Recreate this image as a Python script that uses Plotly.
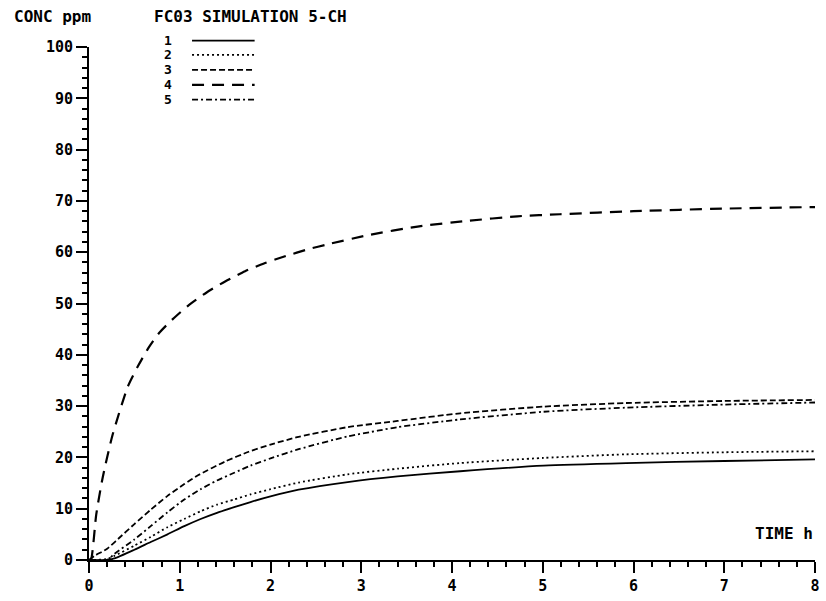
import plotly.graph_objects as go

# ---- data ----
x1 = [0, 0.2, 0.28, 0.5, 0.68, 0.865, 1.05, 1.23, 1.41, 1.6, 1.78, 2.0, 2.31, 2.85, 3.4, 4.09, 5.01, 5.92, 7, 8]
y1 = [0, 0.0, 0.3, 2.0, 3.5, 5.0, 6.6, 8.0, 9.2, 10.3, 11.3, 12.4, 13.7, 15.2, 16.3, 17.3, 18.4, 18.9, 19.3, 19.6]

x2 = [0, 0.2, 0.28, 0.5, 0.68, 0.865, 1.05, 1.23, 1.41, 1.6, 1.78, 2.0, 2.31, 2.85, 3.4, 4.09, 5.01, 5.92, 7, 8]
y2 = [0, 0.2, 0.8, 2.8, 4.5, 6.4, 8.0, 9.5, 10.8, 11.8, 12.8, 13.8, 15.1, 16.7, 17.8, 18.9, 19.9, 20.6, 21.0, 21.2]

x3 = [0, 0.06, 0.2, 0.32, 0.5, 0.68, 0.865, 1.05, 1.21, 1.5, 1.76, 2.0, 2.31, 2.85, 3.4, 4.09, 5.01, 5.92, 7, 8]
y3 = [0, 0.8, 2.2, 4.1, 7.0, 9.8, 12.5, 14.8, 16.6, 19.2, 21.1, 22.5, 24.0, 25.9, 27.1, 28.6, 29.9, 30.6, 31.0, 31.2]

x4 = [0, 0.02, 0.08, 0.15, 0.26, 0.43, 0.54, 0.65, 0.77, 0.92, 1.1, 1.3, 1.5, 1.72, 1.94, 2.16, 2.42, 2.62, 3.07, 3.62, 4.17, 4.72, 5.19, 6, 7, 8]
y4 = [0, 0.0, 8.9, 16.0, 24.4, 33.9, 37.8, 41.2, 44.2, 46.9, 49.7, 52.2, 54.3, 56.3, 57.9, 59.2, 60.6, 61.5, 63.3, 65.0, 66.1, 67.0, 67.4, 68.0, 68.5, 68.8]

x5 = [0, 0.2, 0.28, 0.5, 0.68, 0.865, 1.05, 1.23, 1.41, 1.6, 1.78, 2.0, 2.31, 2.85, 3.18, 3.4, 4.09, 5.01, 5.92, 7, 8]
y5 = [0, 0.0, 1.2, 4.0, 6.6, 9.3, 11.8, 13.8, 15.5, 17.0, 18.4, 19.8, 21.6, 24.1, 25.2, 25.9, 27.4, 28.9, 29.7, 30.3, 30.7]

series_names = ["1", "2", "3", "4", "5"]
series_x = [x1, x2, x3, x4, x5]
series_y = [y1, y2, y3, y4, y5]
dashes = ["solid", "2px,3px", "6px,3px", "12px,8px", "6px,3px,2px,3px"]
widths = [1.8, 1.8, 1.8, 2.2, 1.8]

x_ticks = [0, 1, 2, 3, 4, 5, 6, 7, 8]
y_ticks = [0, 10, 20, 30, 40, 50, 60, 70, 80, 90, 100]

FONT = "DejaVu Sans Mono"

fig = go.Figure()
for name, xs, ys, d, w in zip(series_names, series_x, series_y, dashes, widths):
    fig.add_trace(go.Scatter(
        x=xs, y=ys, mode="lines", name=name,
        line=dict(color="black", dash=d, width=w, shape="spline", smoothing=0.6),
        showlegend=False,
    ))

# legend block drawn manually (pixel positions converted to paper coords)
L, R, T, B = 89.3, 820.0, 47.0, 562.7
def px(xp):
    return (xp - L) / (R - L)
def py(yp):
    return (B - yp) / (B - T)

leg_y = [40.5, 55, 70, 85, 100]
for name, d, w, yy in zip(series_names, dashes, widths, leg_y):
    fig.add_shape(type="line", xref="paper", yref="paper",
                  x0=px(193), x1=px(256), y0=py(yy), y1=py(yy),
                  line=dict(color="black", dash=d, width=w))
    fig.add_annotation(xref="paper", yref="paper", x=px(169), y=py(yy),
                       text="<b>%s</b>" % name, showarrow=False, xanchor="center", yanchor="middle",
                       borderpad=0, font=dict(family=FONT, size=13, color="black"))

fig.add_annotation(xref="paper", yref="paper", x=px(12), y=py(16),
                   text="<b>CONC ppm</b>", showarrow=False, xanchor="left", yanchor="middle",
                   font=dict(family=FONT, size=16, color="black"))
fig.add_annotation(xref="paper", yref="paper", x=px(153), y=py(16),
                   text="<b>FC03 SIMULATION 5-CH</b>", showarrow=False, xanchor="left", yanchor="middle",
                   font=dict(family=FONT, size=16, color="black"))
fig.add_annotation(xref="x", yref="y", x=8, y=5.2,
                   text="<b>TIME h</b>", showarrow=False, xanchor="right", yanchor="middle",
                   font=dict(family=FONT, size=16, color="black"))

fig.update_layout(
    width=826, height=601,
    margin=dict(l=89, r=6, t=47, b=38),
    paper_bgcolor="white", plot_bgcolor="white",
    font=dict(family=FONT, size=15, color="black", weight="bold"),
)
fig.update_xaxes(
    range=[0, 8], tickvals=x_ticks, showgrid=False, zeroline=False,
    showline=True, linecolor="black", linewidth=2,
    ticks="outside", ticklen=11, tickwidth=2, tickcolor="black",
    minor=dict(dtick=0.2, ticks="outside", ticklen=5, tickwidth=1.5, tickcolor="black", showgrid=False),
    tickfont=dict(family=FONT, size=15, color="black", weight="bold"),
)
fig.update_yaxes(
    range=[0, 100], tickvals=y_ticks, showgrid=False, zeroline=False,
    showline=True, linecolor="black", linewidth=2,
    ticks="outside", ticklen=11, tickwidth=2, tickcolor="black",
    minor=dict(dtick=2, ticks="outside", ticklen=5, tickwidth=1.5, tickcolor="black", showgrid=False),
    tickfont=dict(family=FONT, size=15, color="black", weight="bold"),
)

fig.write_html("out.html")
